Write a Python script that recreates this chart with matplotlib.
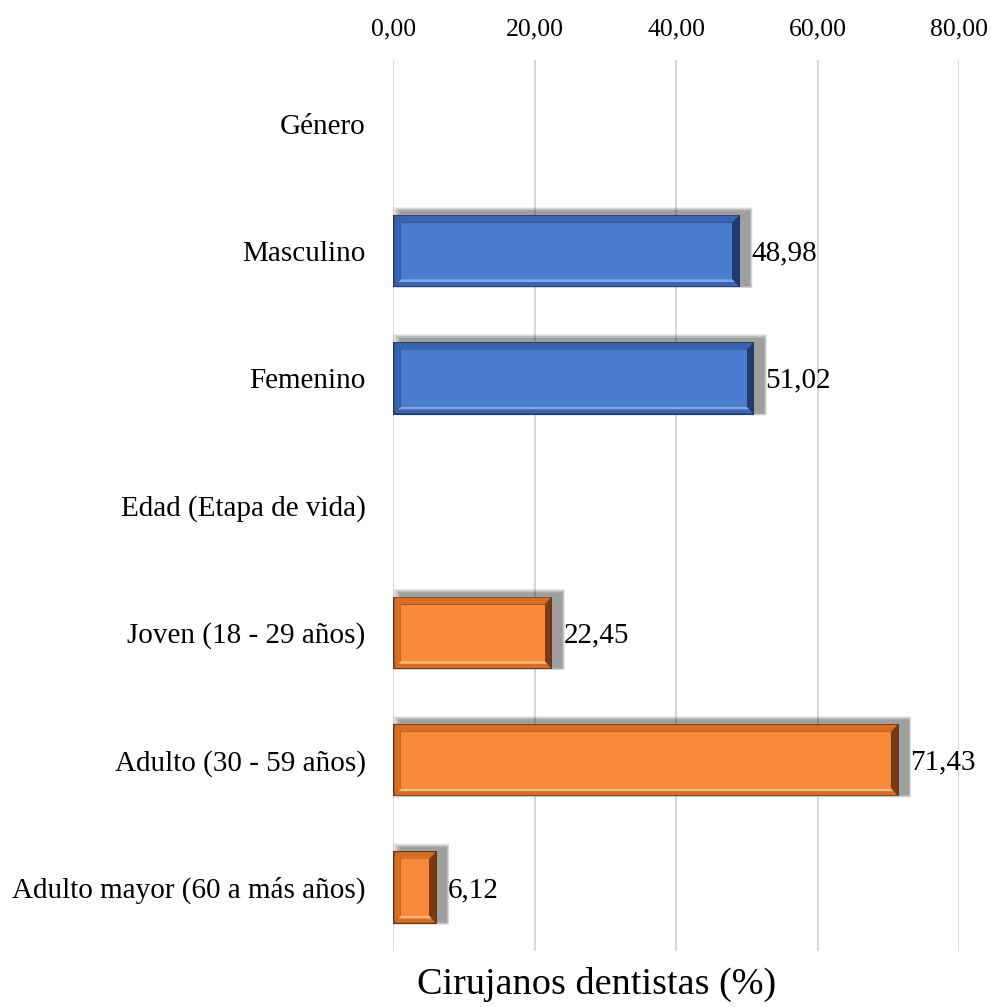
import numpy as np
import matplotlib.pyplot as plt
from matplotlib.patches import Rectangle, Polygon

# Datos: cirujanos dentistas por género y etapa de vida
categorias = ["Género", "Masculino", "Femenino", "Edad (Etapa de vida)",
              "Joven (18 - 29 años)", "Adulto (30 - 59 años)",
              "Adulto mayor (60 a más años)"]
valores = [None, 48.98, 51.02, None, 22.45, 71.43, 6.12]
grupo = [None, "genero", "genero", None, "edad", "edad", "edad"]
ticks_x = [0, 20, 40, 60, 80]

# colores: cara, borde, bisel sup/izq, bisel inf (brillo), lado derecho
paleta = {
    "genero": ("#4a7cd1", "#1f3766", "#3a64ae", "#7ea6ec", "#203a6c"),
    "edad": ("#fa8a3b", "#6e3410", "#d56f28", "#fdb578", "#7a3a12"),
}

plt.rcParams["font.family"] = ["Liberation Serif", "DejaVu Serif"]


def fmt(v):
    return f"{v:.2f}".replace(".", ",")


def barra_bisel(ax, y, v, h, colores):
    cara, borde, medio, claro, derecho = colores
    y0, y1 = y - h / 2, y + h / 2
    # sombra difusa desplazada a la derecha
    for k in range(8):
        g = k / 7.0
        ax.add_patch(Rectangle((0.9 - 0.9 * g, y0 - 0.03 - 0.03 * g),
                               v + 0.5 + 1.3 * g, h + 0.02 + 0.05 * g,
                               facecolor="#000000", alpha=0.055, lw=0, zorder=2))
    # marco exterior
    ax.add_patch(Rectangle((0, y0), v, h, facecolor=borde, lw=0, zorder=3))
    e, f = 0.15, 0.008
    ex, ey = min(0.9, v * 0.15), 0.055
    xa, xb = e, v - e
    ya, yb = y0 + f, y1 - f
    # biseles (y invertido: ya arriba, yb abajo)
    ax.add_patch(Polygon([(xa, ya), (xb, ya), (xb - ex, ya + ey), (xa + ex, ya + ey)],
                         facecolor=medio, lw=0, zorder=4))
    ax.add_patch(Polygon([(xa, yb), (xb, yb), (xb - ex, yb - ey), (xa + ex, yb - ey)],
                         facecolor=medio, lw=0, zorder=4))
    # línea de brillo en el bisel inferior
    ax.add_patch(Polygon([(xa + ex * 0.6, yb - ey * 0.6), (xb - ex * 0.6, yb - ey * 0.6),
                          (xb - ex, yb - ey), (xa + ex, yb - ey)],
                         facecolor=claro, lw=0, zorder=4))
    ax.add_patch(Polygon([(xa, ya), (xa + ex, ya + ey), (xa + ex, yb - ey), (xa, yb)],
                         facecolor=medio, lw=0, zorder=4))
    ax.add_patch(Polygon([(xb, ya), (xb - ex, ya + ey), (xb - ex, yb - ey), (xb, yb)],
                         facecolor=derecho, lw=0, zorder=4))
    ax.add_patch(Rectangle((xa + ex, ya + ey), xb - xa - 2 * ex, yb - ya - 2 * ey,
                           facecolor=cara, lw=0, zorder=5))


fig = plt.figure(figsize=(9.91, 10.07), dpi=100)
ax = fig.add_axes([0.397, 0.0556, 0.571, 0.8848])

y = np.arange(len(categorias))
for yi, v, g in zip(y, valores, grupo):
    if v is None:
        continue
    barra_bisel(ax, yi, v, 0.57, paleta[g])
    ax.text(v + 1.6, yi + 0.02, fmt(v), fontsize=21, va="center", ha="left",
            color="#000000", zorder=6)

ax.set_xlim(0, 80)
ax.set_ylim(len(categorias) - 0.5, -0.5)
ax.set_yticks(y)
ax.set_yticklabels(categorias, fontsize=21)
ax.set_xticks(ticks_x)
ax.set_xticklabels([fmt(t) for t in ticks_x], fontsize=18.5)
ax.xaxis.tick_top()
ax.tick_params(axis="x", length=0, pad=14)
ax.tick_params(axis="y", length=0, pad=20)
ax.grid(axis="x", color="#d9d9d9", lw=1.5, zorder=0)
ax.set_axisbelow(True)
for s in ax.spines.values():
    s.set_visible(False)

fig.text(0.602, 0.022, "Cirujanos dentistas (%)", fontsize=27.5,
         ha="center", va="center")

fig.savefig("out.png", dpi=100)
